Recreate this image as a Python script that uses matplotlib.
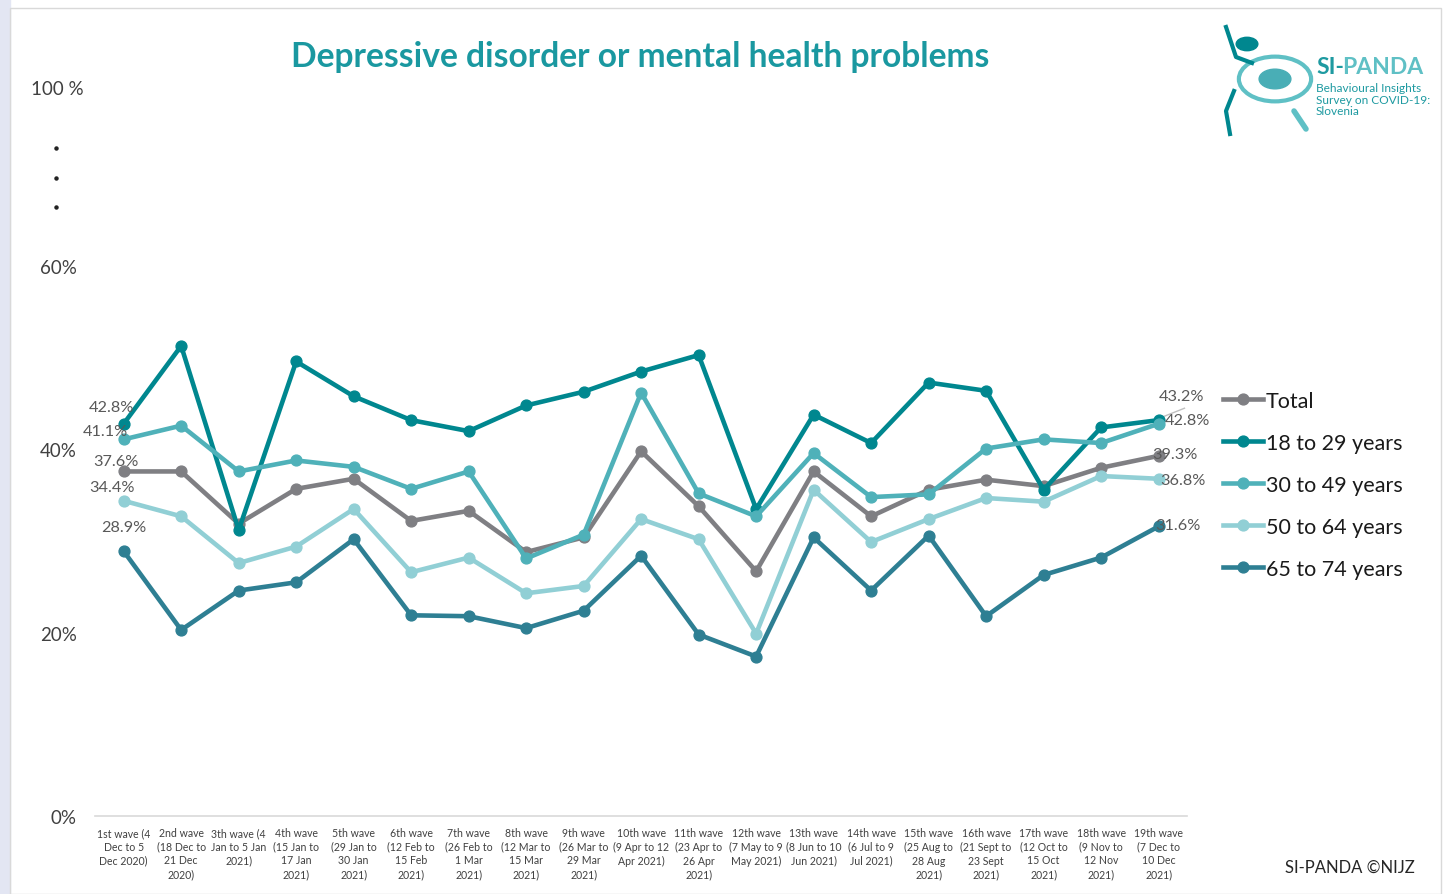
import matplotlib.pyplot as plt
from matplotlib.patches import Circle, Rectangle
from matplotlib.lines import Line2D

plt.rcParams['font.family'] = ['Lato', 'DejaVu Sans']

waves = [
    "1st wave (4\nDec to 5\nDec 2020)", "2nd wave\n(18 Dec to\n21 Dec\n2020)",
    "3th wave (4\nJan to 5 Jan\n2021)", "4th wave\n(15 Jan to\n17 Jan\n2021)",
    "5th wave\n(29 Jan to\n30 Jan\n2021)", "6th wave\n(12 Feb to\n15 Feb\n2021)",
    "7th wave\n(26 Feb to\n1 Mar\n2021)", "8th wave\n(12 Mar to\n15 Mar\n2021)",
    "9th wave\n(26 Mar to\n29 Mar\n2021)", "10th wave\n(9 Apr to 12\nApr 2021)",
    "11th wave\n(23 Apr to\n26 Apr\n2021)", "12th wave\n(7 May to 9\nMay 2021)",
    "13th wave\n(8 Jun to 10\nJun 2021)", "14th wave\n(6 Jul to 9\nJul 2021)",
    "15th wave\n(25 Aug to\n28 Aug\n2021)", "16th wave\n(21 Sept to\n23 Sept\n2021)",
    "17th wave\n(12 Oct to\n15 Oct\n2021)", "18th wave\n(9 Nov to\n12 Nov\n2021)",
    "19th wave\n(7 Dec to\n10 Dec\n2021)",
]

total = [37.6, 37.6, 31.9, 35.7, 36.8, 32.2, 33.3, 28.8, 30.4, 39.8,
         33.8, 26.7, 37.6, 32.7, 35.6, 36.7, 36.0, 38.0, 39.3]
age_18_29 = [42.8, 51.3, 31.2, 49.6, 45.8, 43.2, 42.0, 44.8, 46.3, 48.5,
             50.3, 33.5, 43.8, 40.7, 47.3, 46.4, 35.6, 42.4, 43.2]
age_30_49 = [41.1, 42.6, 37.6, 38.8, 38.1, 35.7, 37.6, 28.1, 30.7, 46.2,
             35.2, 32.7, 39.6, 34.8, 35.1, 40.1, 41.1, 40.7, 42.8]
age_50_64 = [34.4, 32.7, 27.6, 29.4, 33.5, 26.6, 28.2, 24.3, 25.1, 32.4,
             30.2, 19.9, 35.6, 29.9, 32.4, 34.7, 34.3, 37.1, 36.8]
age_65_74 = [28.9, 20.3, 24.6, 25.5, 30.2, 21.9, 21.8, 20.5, 22.4, 28.4,
             19.8, 17.4, 30.4, 24.6, 30.6, 21.8, 26.3, 28.2, 31.6]

series = [
    ("Total", total, "#7f7f83"),
    ("18 to 29 years", age_18_29, "#00878f"),
    ("30 to 49 years", age_30_49, "#4fb1b9"),
    ("50 to 64 years", age_50_64, "#91cfd5"),
    ("65 to 74 years", age_65_74, "#2e7f93"),
]

fig = plt.figure(figsize=(14.45, 8.95), dpi=100)

# page frame
fig.patches.append(Rectangle((0, 0), 0.007, 1, transform=fig.transFigure,
                             color="#e3e6f3", zorder=0))
fig.patches.append(Rectangle((0.007, 0.0), 0.99, 0.99, transform=fig.transFigure,
                             fill=False, edgecolor="#d9d9d9", lw=1, zorder=0))

ax = fig.add_axes([0.0657, 0.0872, 0.756, 0.819])
x = list(range(len(waves)))
for name, vals, col in series:
    ax.plot(x, vals, color=col, lw=3.3, marker='o', markersize=7.8,
            markerfacecolor=col, markeredgecolor=col, label=name, zorder=3)

ax.set_xlim(-0.5, len(waves) - 0.5)
ax.set_ylim(0, 80)
ax.set_xticks(x)
ax.set_xticklabels(waves, fontsize=7.6, color="#404040", linespacing=1.3)
ax.tick_params(axis='x', length=0, pad=8)
ax.set_yticks([0, 20, 40, 60])
ax.set_yticklabels(["0%", "20%", "40%", "60%"], fontsize=13.5, color="#404040")
ax.tick_params(axis='y', length=0, pad=13)
for s in ["top", "right", "left"]:
    ax.spines[s].set_visible(False)
ax.spines["bottom"].set_color("#d9d9d9")
ax.spines["bottom"].set_linewidth(1.2)

# "100 %" label and dots between 60% and 100 %
ax.text(-1.15, 79.4, "100 %", ha='center', va='center', fontsize=13.5, color="#404040",
        clip_on=False)
for yv in [72.9, 69.6, 66.5]:
    ax.plot(-1.18, yv, 'o', color="#222222", markersize=2.2, clip_on=False)

# data labels at first and last points
lab_col = "#595959"
first = [(age_18_29[0], -0.21, 1.8), (age_30_49[0], -0.31, 0.95), (total[0], -0.14, 1.1),
         (age_50_64[0], -0.21, 1.45), (age_65_74[0], 0.0, 2.6)]
for v, dx, dy in first:
    ax.text(dx, v + dy, f"{v:.1f}%", ha='center', va='center', fontsize=11.7, color=lab_col)

last = [(age_18_29[-1], 18.4, 2.6), (age_30_49[-1], 18.5, 0.36), (total[-1], 18.28, 0.15),
        (age_50_64[-1], 18.42, -0.1), (age_65_74[-1], 18.33, 0.2)]
for v, xx, dy in last:
    ax.text(xx, v + dy, f"{v:.1f}%", ha='center', va='center', fontsize=11.7, color=lab_col)
ax.plot([18.05, 18.45], [age_18_29[-1] + 0.3, age_18_29[-1] + 1.3], color="#bfbfbf", lw=1)

handles = [Line2D([0], [0], color=c, lw=3.3, marker='o', markersize=7.8) for _, _, c in series]
fig.legend(handles, [s[0] for s in series], loc='upper left',
           bbox_to_anchor=(0.833, 0.584), frameon=False, fontsize=15.5,
           handlelength=1.85, handletextpad=0.15, labelspacing=1.02,
           labelcolor="#1a1a1a")

fig.text(0.443, 0.936, "Depressive disorder or mental health problems", ha='center',
         va='center', fontsize=24.2, fontweight='bold', color="#1a98a0")
fig.text(0.934, 0.03, "SI-PANDA ©NIJZ", ha='center', va='center', fontsize=12,
         color="#262626")

# simplified logo
fig.patches.append(Circle((1275 / 1445, 1 - 80 / 895), 0.025, transform=fig.transFigure,
                          fill=False, edgecolor="#5fc0c5", lw=3))
fig.patches.append(Circle((1275 / 1445, 1 - 80 / 895), 0.011, transform=fig.transFigure,
                          color="#49aeb6"))
fig.patches.append(Circle((1247 / 1445, 1 - 45 / 895), 0.0075, transform=fig.transFigure,
                          color="#00878f"))
fig.lines.append(Line2D([1294 / 1445, 1306 / 1445], [1 - 112 / 895, 1 - 130 / 895],
                        transform=fig.transFigure, color="#5fc0c5", lw=4,
                        solid_capstyle='round'))
fig.lines.append(Line2D([1226 / 1445, 1236 / 1445, 1252 / 1445], [1 - 28 / 895, 1 - 58 / 895, 1 - 64 / 895],
                        transform=fig.transFigure, color="#00878f", lw=3))
fig.lines.append(Line2D([1234 / 1445, 1226 / 1445, 1230 / 1445], [1 - 92 / 895, 1 - 112 / 895, 1 - 135 / 895],
                        transform=fig.transFigure, color="#00878f", lw=3))
fig.text(1316 / 1445, 1 - 67 / 895, "SI-", fontsize=16.5, fontweight='bold', color="#1e9aa1",
         va='center', ha='left')
fig.text(1342 / 1445, 1 - 67 / 895, "PANDA", fontsize=16.5, fontweight='bold', color="#5fc0c5",
         va='center', ha='left')
fig.text(1316 / 1445, 1 - 100 / 895, "Behavioural Insights\nSurvey on COVID-19:\nSlovenia",
         fontsize=8.6, color="#1e9aa1", va='center', ha='left', linespacing=1.1)

fig.savefig("out.png", dpi=100)
